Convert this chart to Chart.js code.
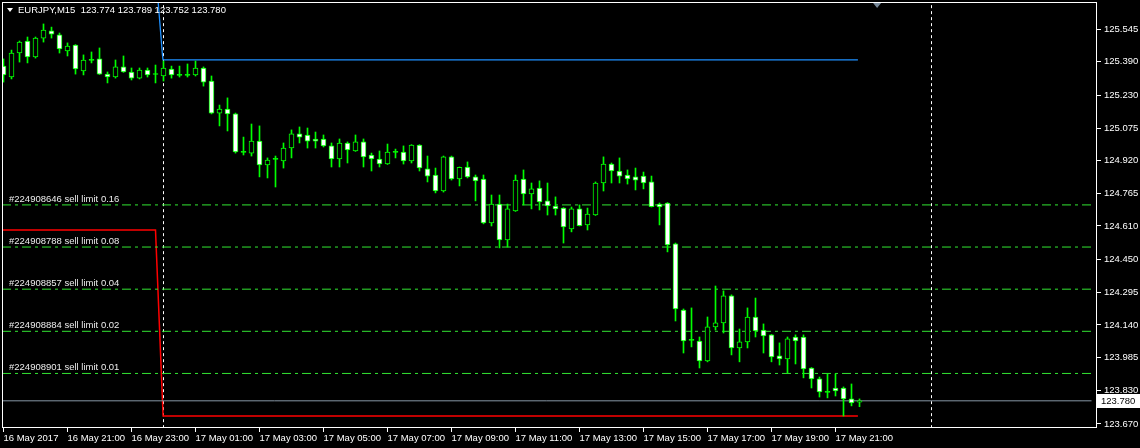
<!DOCTYPE html>
<html lang="en">
<head>
    <meta charset="UTF-8">
    <title>EURJPY,M15</title>
    <script src="https://cdn.jsdelivr.net/npm/chart.js"></script>
    <style>
        html, body { margin: 0; padding: 0; background: #000; }
        canvas { display: block; }
    </style>
</head>
<body>
    <canvas id="mtChart" width="1140" height="448"></canvas>

    <script>
        // 15 minute bars, 16 May 19:00 .. 17 May 21:45
        const opens = [125.369,125.317,125.431,125.488,125.412,125.502,125.536,125.517,125.441,125.469,
            125.346,125.398,125.403,125.331,125.317,125.365,125.341,125.312,125.350,125.331,
            125.322,125.355,125.327,125.325,125.327,125.360,125.298,125.146,125.165,125.142,
            124.961,124.956,125.013,124.900,124.928,124.919,124.980,125.047,125.042,125.023,
            125.023,124.990,124.928,125.004,124.966,125.009,124.947,124.928,124.904,124.961,
            124.961,124.919,124.994,124.881,124.852,124.776,124.938,124.833,124.890,124.843,
            124.833,124.624,124.714,124.544,124.681,124.833,124.762,124.790,124.729,124.705,
            124.695,124.596,124.691,124.615,124.662,124.814,124.904,124.871,124.852,124.843,
            124.847,124.819,124.714,124.719,124.525,124.211,124.069,124.064,123.969,124.131,
            124.150,124.278,124.031,124.060,124.178,124.116,124.093,123.993,123.979,124.083,
            124.083,123.936,123.884,123.822,123.841,123.841,123.789,123.774];
        const highs = [125.403,125.445,125.488,125.507,125.507,125.569,125.554,125.526,125.479,125.471,
            125.422,125.436,125.455,125.341,125.398,125.417,125.360,125.360,125.360,125.374,
            125.393,125.369,125.369,125.379,125.393,125.365,125.322,125.184,125.218,125.146,
            125.032,125.094,125.085,124.933,124.942,125.004,125.066,125.080,125.075,125.056,
            125.042,125.004,125.023,125.009,125.042,125.023,124.956,124.966,124.999,124.975,
            124.990,124.996,124.996,124.942,124.885,124.942,124.942,124.890,124.914,124.852,
            124.852,124.757,124.757,124.714,124.852,124.876,124.814,124.824,124.814,124.748,
            124.697,124.700,124.710,124.695,124.819,124.938,124.909,124.933,124.876,124.885,
            124.866,124.847,124.719,124.721,124.529,124.216,124.221,124.083,124.178,124.325,
            124.302,124.283,124.121,124.221,124.268,124.145,124.095,124.055,124.083,124.093,
            124.093,123.938,123.893,123.908,123.908,123.846,123.860,123.789];
        const lows = [125.293,125.308,125.388,125.384,125.407,125.483,125.502,125.431,125.417,125.331,
            125.327,125.384,125.329,125.289,125.312,125.339,125.303,125.308,125.317,125.289,
            125.298,125.312,125.317,125.317,125.322,125.274,125.142,125.085,125.061,124.956,
            124.947,124.942,124.843,124.838,124.795,124.885,124.933,125.004,124.980,124.980,
            124.985,124.890,124.890,124.909,124.964,124.890,124.871,124.890,124.902,124.933,
            124.904,124.909,124.871,124.819,124.767,124.771,124.828,124.800,124.838,124.729,
            124.620,124.610,124.506,124.510,124.679,124.710,124.691,124.686,124.662,124.662,
            124.529,124.582,124.610,124.591,124.660,124.776,124.814,124.814,124.809,124.781,
            124.786,124.700,124.615,124.487,124.159,124.007,124.036,123.936,123.965,124.116,
            124.102,123.998,123.965,124.031,124.083,124.007,123.965,123.950,123.912,123.955,
            123.889,123.841,123.798,123.794,123.803,123.708,123.756,123.752];
        const closes = [125.327,125.431,125.483,125.412,125.502,125.540,125.521,125.450,125.464,125.355,
            125.398,125.396,125.331,125.317,125.365,125.341,125.312,125.350,125.327,125.329,
            125.360,125.327,125.325,125.327,125.360,125.293,125.146,125.165,125.142,124.961,
            124.959,125.013,124.900,124.923,124.926,124.980,125.047,125.032,125.013,125.013,
            124.990,124.928,125.004,124.971,125.009,124.938,124.928,124.904,124.961,124.959,
            124.919,124.994,124.885,124.847,124.776,124.938,124.833,124.888,124.843,124.824,
            124.624,124.714,124.544,124.691,124.828,124.762,124.786,124.724,124.705,124.691,
            124.605,124.691,124.612,124.667,124.814,124.904,124.871,124.847,124.833,124.828,
            124.814,124.702,124.700,124.520,124.216,124.064,124.067,123.969,124.131,124.150,
            124.278,124.031,124.060,124.178,124.112,124.088,123.988,123.979,124.074,124.064,
            123.931,123.884,123.822,123.820,123.827,123.789,123.770,123.780];

        const xTickPos = [0, 8, 16, 24, 32, 40, 48, 56, 64, 72, 80, 88, 96, 104];
        const xTickLabels = ['16 May 2017', '16 May 21:00', '16 May 23:00', '17 May 01:00', '17 May 03:00',
            '17 May 05:00', '17 May 07:00', '17 May 09:00', '17 May 11:00', '17 May 13:00',
            '17 May 15:00', '17 May 17:00', '17 May 19:00', '17 May 21:00'];
        const yTicks = [125.545, 125.390, 125.230, 125.075, 124.920, 124.765, 124.610,
            124.450, 124.295, 124.140, 123.985, 123.830, 123.670];

        const limitPrices = [124.71, 124.51, 124.31, 124.11, 123.91];
        const limitLabels = ['#224908646 sell limit 0.16', '#224908788 sell limit 0.08',
            '#224908857 sell limit 0.04', '#224908884 sell limit 0.02', '#224908901 sell limit 0.01'];
        const bidPrice = 123.780;
        const daySeparators = [20, 116];
        const blueLineX = [19.31, 19.87, 19.94, 106.8];
        const blueLineY = [125.683, 125.422, 125.398, 125.398];
        const redLineX = [-0.2, 19.0, 19.95, 106.8];
        const redLineY = [124.591, 124.591, 123.708, 123.708];
        const header = 'EURJPY,M15  123.774 123.789 123.752 123.780';

        const X_MIN = -0.1875, X_MAX = X_MIN + 1095 / 8;
        const LIME = '#00ff00';
        const FONT = { family: 'Liberation Sans', size: 9.5 };

        const idx = opens.map((_, i) => i);
        const bodyColors = idx.map(i => Math.abs(closes[i] - opens[i]) < 0.003 ? LIME
            : (closes[i] < opens[i] ? '#ffffff' : '#000000'));

        function hline(price, color, dash) {
            return {
                type: 'line', data: [{ x: X_MIN, y: price }, { x: 136.0, y: price }],
                borderColor: color, borderWidth: 1, borderDash: dash, pointRadius: 0, clip: 0, order: 3
            };
        }

        const datasets = [
            {
                type: 'bar', data: idx.map(i => ({ x: i, y: [lows[i], highs[i]] })),
                backgroundColor: LIME, barThickness: 1, grouped: false, clip: 0, order: 2
            },
            {
                type: 'bar', data: idx.map(i => ({ x: i, y: [opens[i], closes[i]] })),
                backgroundColor: bodyColors, borderColor: LIME, borderWidth: 1, borderSkipped: false,
                barThickness: 5, minBarLength: 1, grouped: false, clip: 0, order: 1
            },
            hline(bidPrice, '#8796a5', []),
            ...limitPrices.map(p => hline(p, '#32e632', [9, 4, 3, 4])),
            ...daySeparators.map(d => ({
                type: 'line', data: [{ x: d, y: 126 }, { x: d, y: 123 }],
                borderColor: '#ffffff', borderWidth: 1, borderDash: [3, 3], pointRadius: 0, clip: 0, order: 4
            })),
            {
                type: 'line', data: blueLineX.map((x, i) => ({ x, y: blueLineY[i] })),
                borderColor: '#1e90ff', borderWidth: 1.3, pointRadius: 0, clip: 0, order: 3
            },
            {
                type: 'line', data: redLineX.map((x, i) => ({ x, y: redLineY[i] })),
                borderColor: '#ff0000', borderWidth: 1.5, pointRadius: 0, clip: 0, order: 3
            }
        ];

        // frame, header, order labels, bid box
        const mtOverlay = {
            id: 'mtOverlay',
            afterDraw(chart) {
                const { ctx, chartArea: a, scales } = chart;
                const y = scales.y, x = scales.x;
                ctx.save();
                ctx.strokeStyle = '#ffffff';
                ctx.lineWidth = 1;
                ctx.strokeRect(a.left + 0.5, a.top + 0.5, a.right - a.left - 1, a.bottom - a.top - 1);

                ctx.font = '9.5px "Liberation Sans"';
                ctx.textBaseline = 'middle';
                ctx.fillStyle = '#ffffff';
                ctx.beginPath();
                ctx.moveTo(7, 8); ctx.lineTo(13, 8); ctx.lineTo(10, 12); ctx.closePath();
                ctx.fill();
                ctx.fillText(header, 18, 10);

                // chart shift marker
                const sx = x.getPixelForValue(109.2);
                ctx.fillStyle = '#778899';
                ctx.beginPath();
                ctx.moveTo(sx - 4, a.top + 1); ctx.lineTo(sx + 4, a.top + 1); ctx.lineTo(sx, a.top + 6); ctx.closePath();
                ctx.fill();

                ctx.fillStyle = '#ececec';
                ctx.textBaseline = 'bottom';
                limitPrices.forEach((p, i) => {
                    ctx.fillText(limitLabels[i], 9, y.getPixelForValue(p) - 1);
                });

                const by = y.getPixelForValue(bidPrice);
                ctx.fillStyle = '#ffffff';
                ctx.fillRect(a.right, Math.round(by) - 7, chart.width - a.right, 14);
                ctx.fillStyle = '#000000';
                ctx.textBaseline = 'middle';
                ctx.fillText(bidPrice.toFixed(3), a.right + 4, Math.round(by));
                ctx.restore();
            }
        };

        new Chart(document.getElementById('mtChart'), {
            type: 'bar',
            data: { datasets },
            options: {
                responsive: false,
                animation: false,
                layout: { padding: { left: 2, top: 2, right: 0, bottom: 0 } },
                plugins: { legend: { display: false }, tooltip: { enabled: false } },
                scales: {
                    x: {
                        type: 'linear', min: X_MIN, max: X_MAX, offset: false,
                        afterBuildTicks: s => { s.ticks = xTickPos.map(v => ({ value: v })); },
                        afterFit: s => { s.height = 20; s.paddingLeft = 0; s.paddingRight = 0; },
                        grid: { drawOnChartArea: false, color: '#ffffff', tickLength: 4, offset: false },
                        border: { display: false },
                        ticks: {
                            autoSkip: false, maxRotation: 0, align: 'start', padding: 1,
                            color: '#ffffff', font: FONT,
                            callback: (v, i) => xTickLabels[i]
                        }
                    },
                    y: {
                        position: 'right', min: 123.651, max: 125.6732,
                        afterBuildTicks: s => { s.ticks = yTicks.map(v => ({ value: v })); },
                        afterFit: s => { s.width = 43; s.paddingTop = 0; s.paddingBottom = 0; },
                        grid: { drawOnChartArea: false, color: '#ffffff', tickLength: 4 },
                        border: { display: false },
                        ticks: { padding: 3, color: '#ffffff', font: FONT, callback: v => v.toFixed(3) }
                    }
                }
            },
            plugins: [mtOverlay]
        });
    </script>
</body>
</html>
